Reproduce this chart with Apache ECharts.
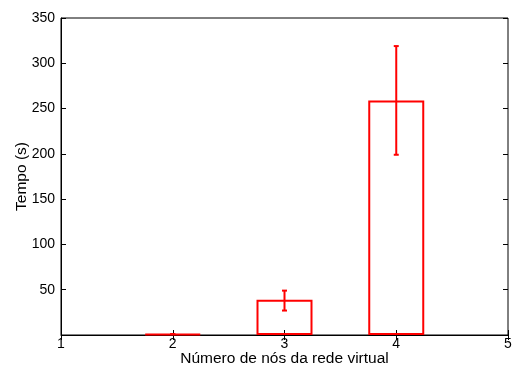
<!doctype html>
<html>
<head>
<meta charset="utf-8">
<title>Tempo por número de nós</title>
<script src="https://cdn.jsdelivr.net/npm/echarts@6/dist/echarts.min.js"></script>
<style>
  html, body { margin: 0; padding: 0; background: #fff; }
  #main { width: 512px; height: 367px; }
</style>
</head>
<body>
<div id="main"></div>
<script>
var nodes = [2, 3, 4];
var tempo = [1, 39, 259];
var errLow = [1, 27, 199];
var errHigh = [1, 49, 319];
var xTicks = [1, 2, 3, 4, 5];

var chart = echarts.init(document.getElementById('main'));
var font = 'Liberation Sans, Arial, sans-serif';

var barData = nodes.map(function (n, i) { return [n, tempo[i]]; });
var errData = nodes.map(function (n, i) { return [n, errLow[i], errHigh[i]]; });

chart.setOption({
    animation: false,
    grid: {
        left: 61, right: 4, top: 18, bottom: 32,
        outerBoundsMode: 'none',
        containLabel: false,
        show: true, borderColor: '#000', borderWidth: 1
    },
    xAxis: [{
        type: 'value', min: 1, max: 5, interval: 1,
        name: 'Número de nós da rede virtual',
        nameLocation: 'middle', nameGap: 16, nameMoveOverlap: false,
        nameTextStyle: { fontFamily: font, fontSize: 15.5, color: '#000' },
        axisLine: { lineStyle: { color: '#000' } },
        axisTick: { inside: true, length: 5, lineStyle: { color: '#000' } },
        axisLabel: {
            fontFamily: font, fontSize: 14, color: '#000', margin: 2,
            formatter: function (v) { return xTicks.indexOf(v) >= 0 ? String(v) : ''; }
        },
        splitLine: { show: false }
    }, {
        type: 'value', min: 1, max: 5, interval: 1, position: 'top',
        axisLine: { show: false },
        axisTick: { inside: true, length: 5, lineStyle: { color: '#000' } },
        axisLabel: { show: false },
        splitLine: { show: false }
    }],
    yAxis: [{
        type: 'value', min: 0, max: 350, interval: 50,
        name: 'Tempo (s)',
        nameLocation: 'middle', nameGap: 31, nameMoveOverlap: false,
        nameTextStyle: { fontFamily: font, fontSize: 15.5, color: '#000' },
        axisLine: { show: true, lineStyle: { color: '#000' } },
        axisTick: { show: true, inside: true, length: 5, lineStyle: { color: '#000' } },
        axisLabel: {
            fontFamily: font, fontSize: 14, color: '#000', margin: 6,
            formatter: function (v) { return v === 0 ? '' : String(v); }
        },
        splitLine: { show: false }
    }, {
        type: 'value', min: 0, max: 350, interval: 50, position: 'right',
        axisLine: { show: false },
        axisTick: { show: true, inside: true, length: 5, lineStyle: { color: '#000' } },
        axisLabel: { show: false },
        splitLine: { show: false }
    }],
    series: [{
        type: 'bar',
        data: barData,
        barWidth: 56,
        itemStyle: { color: 'rgba(0,0,0,0)', borderColor: '#ff0000', borderWidth: 2 },
        z: 3
    }, {
        type: 'custom',
        data: errData,
        z: 4,
        renderItem: function (params, api) {
            var x = api.value(0);
            var lo = api.coord([x, api.value(1)]);
            var hi = api.coord([x, api.value(2)]);
            var cap = 2.5;
            var style = { stroke: '#ff0000', lineWidth: 2, fill: null };
            return {
                type: 'group',
                children: [
                    { type: 'line', shape: { x1: lo[0], y1: lo[1], x2: hi[0], y2: hi[1] }, style: style },
                    { type: 'line', shape: { x1: lo[0] - cap, y1: lo[1], x2: lo[0] + cap, y2: lo[1] }, style: style },
                    { type: 'line', shape: { x1: hi[0] - cap, y1: hi[1], x2: hi[0] + cap, y2: hi[1] }, style: style }
                ]
            };
        }
    }]
});
</script>
</body>
</html>
